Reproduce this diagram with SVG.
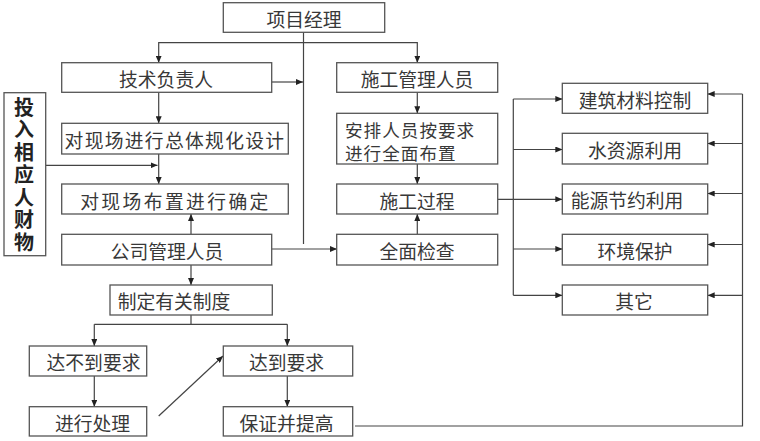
<svg xmlns="http://www.w3.org/2000/svg" width="760" height="441" viewBox="0 0 760 441">
<defs>
<marker id="ah" markerWidth="7" markerHeight="6" refX="7" refY="3" orient="auto" markerUnits="userSpaceOnUse">
<path d="M0,0 L7,3 L0,6 Z" fill="#222"/>
</marker>
<style>
.box{fill:#fff;stroke:#555;stroke-width:1.3}
.t{font-family:"Noto Sans CJK SC","Noto Sans CJK TC",sans-serif;font-size:18.8px;fill:#383838;text-anchor:middle;dominant-baseline:central}
.tb{font-family:"Noto Sans CJK SC",sans-serif;font-size:20px;font-weight:bold;fill:#222;writing-mode:vertical-rl;letter-spacing:2.5px}
.c{fill:none;stroke:#444;stroke-width:1.2}
.a{marker-end:url(#ah)}
</style>
</defs>
<rect width="760" height="441" fill="#fff"/>
<g id="connectors">
<path class="c" d="M303.5,32 V244"/>
<path class="c a" d="M303.5,42.7 H158.7 V62.7"/>
<path class="c a" d="M303.5,42.7 H417.3 V62.7"/>
<path class="c a" d="M272,82 H303"/>
<path class="c a" d="M158.7,92.3 V123.3"/>
<path class="c a" d="M158.7,154 V184"/>
<path class="c a" d="M45.7,165.3 H157.5"/>
<path class="c a" d="M191,234.3 V214"/>
<path class="c a" d="M191,265 V285"/>
<path class="c a" d="M272,249 H337"/>
<path class="c a" d="M417.3,92.3 V113.3"/>
<path class="c a" d="M417.3,164 V184"/>
<path class="c a" d="M417.3,234.3 V214"/>
<path class="c" d="M497.7,199.3 H513.3 M513.3,99 V295.3"/>
<path class="c a" d="M513.3,99 H562.3"/>
<path class="c a" d="M513.3,149.5 H562.3"/>
<path class="c a" d="M513.3,199.3 H562.3"/>
<path class="c a" d="M513.3,249 H562.3"/>
<path class="c a" d="M513.3,295.3 H562.3"/>
<path class="c" d="M355,426 H742.5 V94"/>
<path class="c a" d="M742.5,94 H707.7"/>
<path class="c a" d="M742.5,143.5 H707.7"/>
<path class="c a" d="M742.5,193.5 H707.7"/>
<path class="c a" d="M742.5,244.5 H707.7"/>
<path class="c a" d="M742.5,295.3 H707.7"/>
<path class="c" d="M191,315 V324.3 M94.3,324.3 H287.3"/>
<path class="c a" d="M94.3,324.3 V346"/>
<path class="c a" d="M287.3,324.3 V346"/>
<path class="c a" d="M94.3,376 V406.7"/>
<path class="c a" d="M287.3,376 V406.7"/>
<path class="c a" d="M158.7,416 L223,356"/>
</g>
<g id="n-xmjl"><rect class="box" x="223.3" y="2.7" width="161.4" height="29.6"/><text class="t" x="304" y="18">项目经理</text></g>
<g id="n-jsfzr"><rect class="box" x="61.7" y="62.7" width="210" height="29.6"/><text class="t" x="166" y="78">技术负责人</text></g>
<g id="n-sggl"><rect class="box" x="336.7" y="62.7" width="161" height="29.6"/><text class="t" x="417" y="78">施工管理人员</text></g>
<g id="n-touru"><rect class="box" x="4" y="92.7" width="41.7" height="163"/>
<text class="tb" x="24" y="97">投入相应人财物</text></g>
<g id="n-ztgh"><rect class="box" x="61.7" y="123.3" width="226.6" height="30.7"/><text class="t" x="175" y="139.5" style="letter-spacing:1.3px">对现场进行总体规化设计</text></g>
<g id="n-anpai"><rect class="box" x="336.7" y="113.3" width="161" height="50.7"/><text class="t" style="text-anchor:start;font-size:17.6px;letter-spacing:1px"><tspan x="345" y="128.5">安排人员按要求</tspan><tspan x="345" y="151.5">进行全面布置</tspan></text></g>
<g id="n-qd"><rect class="box" x="61.7" y="184" width="226.6" height="30"/><text class="t" x="175.5" y="200" style="letter-spacing:2.4px">对现场布置进行确定</text></g>
<g id="n-sggc"><rect class="box" x="336.7" y="184" width="161" height="30"/><text class="t" x="417" y="200">施工过程</text></g>
<g id="n-gsgl"><rect class="box" x="61.7" y="234.3" width="210" height="30.7"/><text class="t" x="167" y="250.5">公司管理人员</text></g>
<g id="n-qmjc"><rect class="box" x="336.7" y="234.3" width="161" height="30.7"/><text class="t" x="417" y="250.5">全面检查</text></g>
<g id="n-jzcl"><rect class="box" x="562.3" y="83.3" width="145.4" height="30"/><text class="t" x="635" y="99">建筑材料控制</text></g>
<g id="n-szy"><rect class="box" x="562.3" y="133.3" width="145.4" height="30.7"/><text class="t" x="635" y="149.5">水资源利用</text></g>
<g id="n-nyjy"><rect class="box" x="562.3" y="184" width="145.4" height="30"/><text class="t" x="627" y="199.5">能源节约利用</text></g>
<g id="n-hjbh"><rect class="box" x="562.3" y="234.3" width="145.4" height="30.7"/><text class="t" x="635" y="250">环境保护</text></g>
<g id="n-qt"><rect class="box" x="562.3" y="285" width="145.4" height="30"/><text class="t" x="634" y="300.5">其它</text></g>
<g id="n-zdzd"><rect class="box" x="110" y="285" width="162.3" height="30"/><text class="t" x="174" y="300.5">制定有关制度</text></g>
<g id="n-bdd"><rect class="box" x="29.3" y="346" width="117.4" height="30"/><text class="t" x="93.5" y="361.5">达不到要求</text></g>
<g id="n-dd"><rect class="box" x="223.3" y="346" width="129.4" height="30"/><text class="t" x="286.5" y="361.5">达到要求</text></g>
<g id="n-jxcl"><rect class="box" x="29.3" y="406.7" width="117.4" height="29.3"/><text class="t" x="92.5" y="422">进行处理</text></g>
<g id="n-bzts"><rect class="box" x="223.3" y="406.7" width="129.4" height="29.3"/><text class="t" x="286.5" y="422">保证并提高</text></g>
</svg>
